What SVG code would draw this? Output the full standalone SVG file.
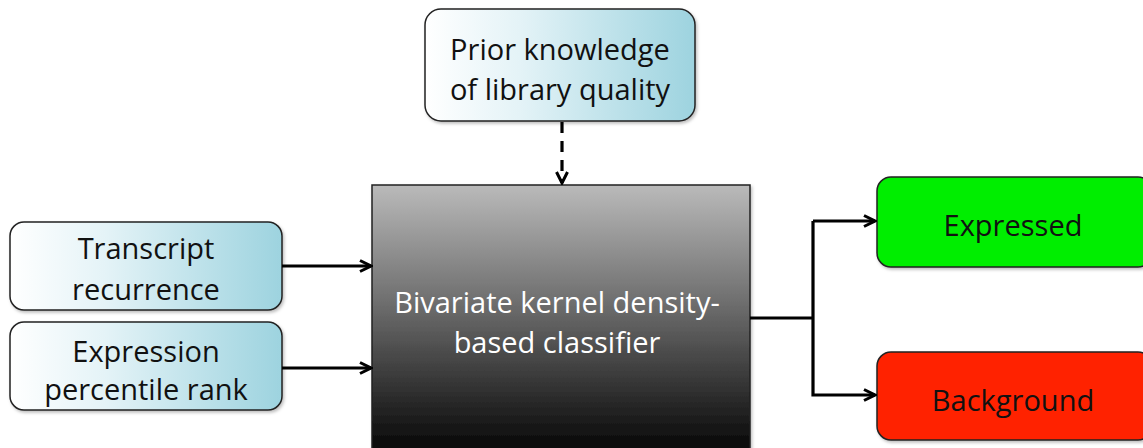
<svg xmlns="http://www.w3.org/2000/svg" width="1143" height="448" viewBox="0 0 1143 448">
  <defs>
    <linearGradient id="blueFill" x1="0" y1="0" x2="1" y2="0">
      <stop offset="0" stop-color="#ffffff"/>
      <stop offset="0.35" stop-color="#e4f3f7"/>
      <stop offset="1" stop-color="#9dd3df"/>
    </linearGradient>
    <linearGradient id="greyFill" x1="0" y1="0" x2="0" y2="1">
      <stop offset="0" stop-color="#bababa"/>
      <stop offset="0.45" stop-color="#6a6a6a"/>
      <stop offset="1" stop-color="#000000"/>
    </linearGradient>
    <filter id="shadow" x="-5%" y="-5%" width="115%" height="120%">
      <feDropShadow dx="1.5" dy="2" stdDeviation="1.5" flood-color="#000" flood-opacity="0.25"/>
    </filter>
    <marker id="arrow" viewBox="0 0 14 14" refX="12.5" refY="7" markerWidth="14" markerHeight="14" markerUnits="userSpaceOnUse" orient="auto">
      <path d="M1.5,1.5 L12.5,7 L1.5,12.5" fill="none" stroke="#000" stroke-width="3"/>
    </marker>
  </defs>
  <style>
    .node { stroke: #222; stroke-width: 1.5; filter: url(#shadow); }
    .blue { fill: url(#blueFill); }
    .label { font-family: "Open Sans", "Liberation Sans", sans-serif; font-size: 29px; fill: #111; text-anchor: middle; dominant-baseline: central; }
    .white { fill: #ffffff; }
    .link { fill: none; stroke: #000; stroke-width: 3.2; }
  </style>

  <g id="prior">
    <rect class="node blue" x="425" y="9" width="270" height="112" rx="16"/>
    <text class="label" x="560" y="48">Prior knowledge</text>
    <text class="label" x="560" y="88">of library quality</text>
  </g>

  <g id="transcript">
    <rect class="node blue" x="10" y="222" width="272" height="88" rx="14"/>
    <text class="label" x="146" y="247">Transcript</text>
    <text class="label" x="146" y="288">recurrence</text>
  </g>

  <g id="expression">
    <rect class="node blue" x="10" y="322" width="272" height="88" rx="14"/>
    <text class="label" x="146" y="350">Expression</text>
    <text class="label" x="146" y="388">percentile rank</text>
  </g>

  <g id="classifier">
    <rect class="node" x="372" y="185" width="378" height="275" fill="url(#greyFill)"/>
    <text class="label white" x="557" y="301">Bivariate kernel density-</text>
    <text class="label white" x="557" y="341">based classifier</text>
  </g>

  <g id="expressed">
    <rect class="node" x="877" y="177" width="275" height="90" rx="14" fill="#00ee00"/>
    <text class="label" x="1013" y="224">Expressed</text>
  </g>

  <g id="background">
    <rect class="node" x="877" y="352" width="275" height="88" rx="14" fill="#ff2200"/>
    <text class="label" x="1013" y="399">Background</text>
  </g>

  <g id="connectors">
    <path class="link" d="M562,122 L562,183" stroke-dasharray="11,8" marker-end="url(#arrow)"/>
    <path class="link" d="M282,266 L371,266" marker-end="url(#arrow)"/>
    <path class="link" d="M282,368 L371,368" marker-end="url(#arrow)"/>
    <path class="link" d="M750,318 L813,318"/>
    <path class="link" d="M813,221 L813,395 L875,395" marker-end="url(#arrow)"/>
    <path class="link" d="M813,221 L875,221" marker-end="url(#arrow)"/>
  </g>
</svg>
